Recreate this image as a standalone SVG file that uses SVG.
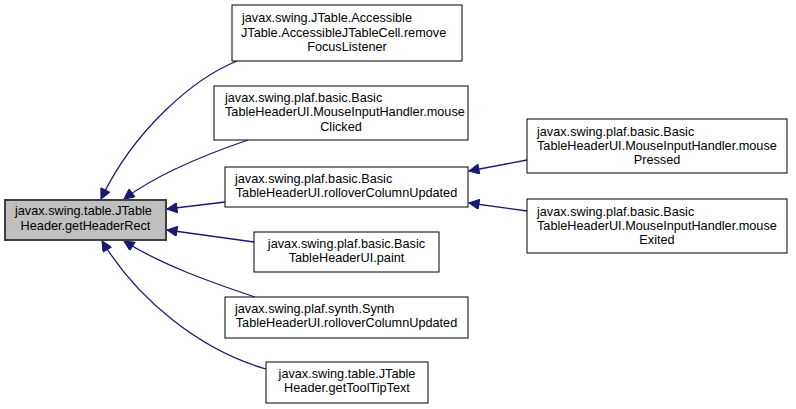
<svg xmlns="http://www.w3.org/2000/svg" width="796" height="409" viewBox="0 0 796 409">
<defs>
<style>
.n rect{fill:#fff;stroke:#000;stroke-width:1}
.n.main rect{fill:#bfbfbf;stroke:#404040;stroke-width:2}
text{font-family:"Liberation Sans",Arial,sans-serif;font-size:12.7px;fill:#000}
.c{text-anchor:middle}
.e path{fill:none;stroke:#191970;stroke-width:1.3}
</style>
<marker id="ah" viewBox="0 0 10 10" refX="10" refY="5" markerWidth="12" markerHeight="10" markerUnits="userSpaceOnUse" orient="auto">
<path d="M0,0 L10,5 L0,10 Z" fill="#191970" stroke="#191970"/>
</marker>
</defs>
<rect width="796" height="409" fill="#fff"/>
<g class="e">
<path d="M237,61 C195,78 135,128 101,199" marker-end="url(#ah)"/>
<path d="M248,140 C210,153 160,172 124,199" marker-end="url(#ah)"/>
<path d="M225,202 L167,209" marker-end="url(#ah)"/>
<path d="M254,242 L167,230" marker-end="url(#ah)"/>
<path d="M255,297 C210,282 160,264 124,241" marker-end="url(#ah)"/>
<path d="M266,369 C200,350 138,300 102,241" marker-end="url(#ah)"/>
<path d="M527,160 L469,171" marker-end="url(#ah)"/>
<path d="M527,211 L469,203" marker-end="url(#ah)"/>
</g>
<g id="main" class="n main">
<rect x="5" y="200" width="161" height="40"/>
<text x="15" y="215">javax.swing.table.JTable</text>
<text x="85.5" y="230" class="c">Header.getHeaderRect</text>
</g>
<g id="n1" class="n">
<rect x="232" y="5" width="230" height="56"/>
<text x="242" y="22">javax.swing.JTable.Accessible</text>
<text x="241" y="37">JTable.AccessibleJTableCell.remove</text>
<text x="347" y="51" class="c">FocusListener</text>
</g>
<g id="n2" class="n">
<rect x="214" y="86" width="254" height="54"/>
<text x="225" y="102">javax.swing.plaf.basic.Basic</text>
<text x="225" y="116">TableHeaderUI.MouseInputHandler.mouse</text>
<text x="341" y="131" class="c">Clicked</text>
</g>
<g id="n3" class="n">
<rect x="225" y="167" width="243" height="40"/>
<text x="235" y="183">javax.swing.plaf.basic.Basic</text>
<text x="346.5" y="197" class="c">TableHeaderUI.rolloverColumnUpdated</text>
</g>
<g id="n4" class="n">
<rect x="254" y="232" width="185" height="40"/>
<text x="346.5" y="248" class="c">javax.swing.plaf.basic.Basic</text>
<text x="346.5" y="262" class="c">TableHeaderUI.paint</text>
</g>
<g id="n5" class="n">
<rect x="225" y="297" width="243" height="41"/>
<text x="235" y="313">javax.swing.plaf.synth.Synth</text>
<text x="346.5" y="327" class="c">TableHeaderUI.rolloverColumnUpdated</text>
</g>
<g id="n6" class="n">
<rect x="266" y="362" width="162" height="41"/>
<text x="347" y="378" class="c">javax.swing.table.JTable</text>
<text x="347" y="392" class="c">Header.getToolTipText</text>
</g>
<g id="n7" class="n">
<rect x="527" y="119" width="260" height="54"/>
<text x="537" y="136">javax.swing.plaf.basic.Basic</text>
<text x="537" y="150">TableHeaderUI.MouseInputHandler.mouse</text>
<text x="657" y="164" class="c">Pressed</text>
</g>
<g id="n8" class="n">
<rect x="527" y="199" width="260" height="54"/>
<text x="537" y="216">javax.swing.plaf.basic.Basic</text>
<text x="537" y="230">TableHeaderUI.MouseInputHandler.mouse</text>
<text x="657" y="244" class="c">Exited</text>
</g>
</svg>
